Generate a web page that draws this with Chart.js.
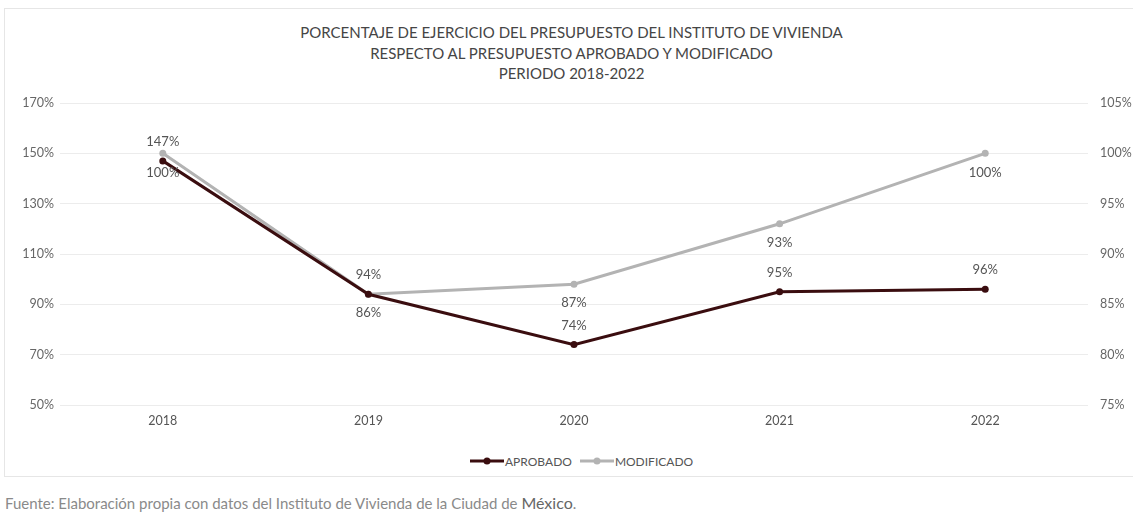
<!DOCTYPE html>
<html><head><meta charset="utf-8">
<script src="https://cdn.jsdelivr.net/npm/chart.js@4.4.1/dist/chart.umd.min.js"></script>
<style>
html,body{margin:0;padding:0;background:#fff;width:1133px;height:512px;overflow:hidden;font-family:Lato,"Open Sans",sans-serif;}
#frame{position:absolute;left:4px;top:8px;width:1140px;height:469px;border:1px solid #e6e6e6;box-sizing:border-box;}
#wrap{position:absolute;left:0;top:0;width:1133px;height:428px;}
#title{position:absolute;top:22px;left:5px;width:1133px;text-align:center;font-size:15px;line-height:20.5px;color:#454545;}
#legend{position:absolute;top:453px;left:470px;height:16px;display:flex;align-items:center;font-size:12px;color:#555;white-space:nowrap;}
#legend .it{display:flex;align-items:center;margin-right:8px;}
#legend svg{margin-right:1px;}
#note{position:absolute;left:5px;top:493px;font-size:15px;color:#8a8a8a;white-space:nowrap;}
</style></head>
<body>
<div id="frame"></div>
<div id="title">PORCENTAJE DE EJERCICIO DEL PRESUPUESTO DEL INSTITUTO DE VIVIENDA<br>RESPECTO AL PRESUPUESTO APROBADO Y MODIFICADO<br>PERIODO 2018-2022</div>
<div id="wrap"><canvas id="c" width="1133" height="428"></canvas></div>
<div id="legend"></div>
<div id="note">Fuente: Elaboración propia con datos del Instituto de Vivienda de la Ciudad de <span style="font-size:16px;color:#666">México</span>.</div>
<script>
const years = ['2018','2019','2020','2021','2022'];
const aprobado = [147, 94, 74, 95, 96];
const modificado = [100, 86, 87, 93, 100];
const leftTicks = [50, 70, 90, 110, 130, 150, 170];
const rightTicks = [75, 80, 85, 90, 95, 100, 105];
const seriesNames = ['APROBADO', 'MODIFICADO'];

const C_APR = '#3a0d0f';
const C_MOD = '#b3b3b3';

const labelPlugin = {
  id:'vlabels',
  afterDatasetsDraw(chart){
    const ctx = chart.ctx; ctx.save();
    ctx.font = '13px Lato'; ctx.fillStyle = '#555';
    ctx.textAlign = 'center'; ctx.textBaseline = 'middle';
    chart.data.datasets.forEach((ds,i)=>{
      const meta = chart.getDatasetMeta(i);
      const off = i === 0 ? -19 : 19;
      meta.data.forEach((pt,j)=>{ ctx.fillText(ds.data[j] + '%', pt.x, pt.y + off); });
    });
    ctx.restore();
  }
};

const chart = new Chart(document.getElementById('c'), {
  type:'line',
  data:{
    labels: years,
    datasets:[
      {label:seriesNames[0], data:aprobado, yAxisID:'y', borderColor:C_APR, backgroundColor:C_APR,
       borderWidth:3, pointRadius:3.5, pointBackgroundColor:C_APR, pointBorderWidth:0, pointStyle:'circle', tension:0},
      {label:seriesNames[1], data:modificado, yAxisID:'y1', borderColor:C_MOD, backgroundColor:C_MOD,
       borderWidth:3, pointRadius:3.5, pointBackgroundColor:C_MOD, pointBorderWidth:0, pointStyle:'circle', tension:0}
    ]
  },
  options:{
    responsive:false, animation:false,
    layout:{padding:{top:103, bottom:0, left:0, right:0}},
    plugins:{ title:{display:false}, tooltip:{enabled:false}, legend:{display:false} },
    scales:{
      x:{offset:true, grid:{display:false}, border:{display:false},
        ticks:{color:'#555', font:{family:'Lato', size:12.5}, padding:0}},
      y:{position:'left', min:50, max:170, border:{display:false},
        grid:{color:'#ececec', lineWidth:1, drawTicks:false},
        afterBuildTicks(s){ s.ticks = leftTicks.map(v=>({value:v})); },
        afterFit(s){ s.width = 60; },
        ticks:{color:'#666', font:{family:'Lato', size:12.5}, padding:6, callback:v=>v+'%'}},
      y1:{position:'right', min:75, max:105, border:{display:false},
        grid:{display:false, drawTicks:false},
        afterBuildTicks(s){ s.ticks = rightTicks.map(v=>({value:v})); },
        afterFit(s){ s.width = 45; },
        ticks:{color:'#666', font:{family:'Lato', size:12.5}, padding:12, callback:v=>v+'%'}}
    }
  },
  plugins:[labelPlugin]
});

// HTML legend built from the datasets
const lg = document.getElementById('legend');
chart.data.datasets.forEach(ds=>{
  const it = document.createElement('div'); it.className='it';
  it.innerHTML = '<svg width="34" height="10"><line x1="0" y1="5" x2="34" y2="5" stroke="'+ds.borderColor+'" stroke-width="3"/><circle cx="17" cy="5" r="3.5" fill="'+ds.borderColor+'"/></svg>';
  const t = document.createElement('span'); t.textContent = ds.label; it.appendChild(t);
  lg.appendChild(it);
});
</script>
</body></html>
